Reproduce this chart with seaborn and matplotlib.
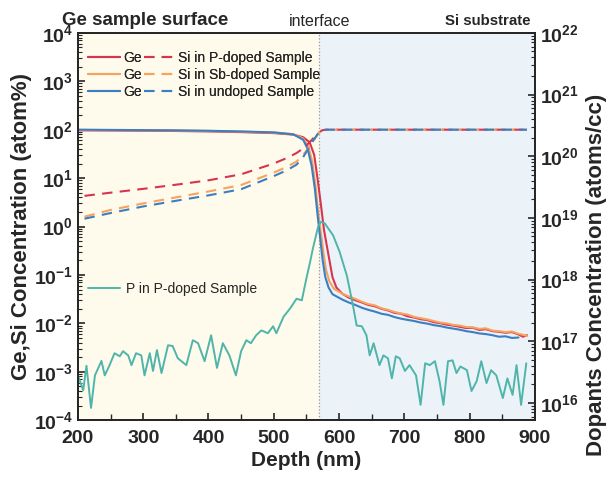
import numpy as np
import pandas as pd
import seaborn as sns
import matplotlib.pyplot as plt
from matplotlib.lines import Line2D
from matplotlib.ticker import LogLocator, FuncFormatter, MultipleLocator, NullFormatter

# Ge profiles (atom%)
ge_p_depth = [200, 250, 300, 350, 400, 450, 500, 530, 545, 555, 562, 567, 572, 577, 583, 590, 596,
              605, 615, 625, 635, 645, 655, 665, 675, 685, 695, 705, 715, 725, 735, 745, 755, 765,
              775, 785, 795, 805, 815, 825, 835, 845, 855, 865, 875, 882, 888]
ge_p = [97, 96, 95, 94, 92, 89, 85, 79, 70, 55, 30, 10, 3.0, 0.85, 0.3, 0.09, 0.055,
        0.041, 0.034, 0.030, 0.027, 0.024, 0.0225, 0.020, 0.0185, 0.0165, 0.0158, 0.014, 0.0132,
        0.0122, 0.0117, 0.0106, 0.0101, 0.0094, 0.0090, 0.0085, 0.0080, 0.0081, 0.0073, 0.0076,
        0.0069, 0.0067, 0.0064, 0.0066, 0.0059, 0.0053, 0.0057]

ge_sb_depth = [200, 250, 300, 350, 400, 450, 500, 530, 545, 553, 559, 564, 568, 572, 576, 580, 585,
               592, 605, 615, 625, 635, 645, 655, 665, 675, 685, 695, 705, 715, 725, 735, 745,
               755, 765, 775, 785, 795, 805, 815, 825, 835, 845, 855, 865, 875, 882, 888]
ge_sb = [99, 98, 97, 96, 94, 91, 87, 81, 66, 45, 22, 7, 2.0, 0.8, 0.3, 0.13, 0.075,
         0.052, 0.041, 0.036, 0.032, 0.028, 0.025, 0.0235, 0.0205, 0.019, 0.0172, 0.016, 0.0152,
         0.0136, 0.0128, 0.0121, 0.0112, 0.0104, 0.0100, 0.0093, 0.0090, 0.0084, 0.0083, 0.0077,
         0.0079, 0.0071, 0.0069, 0.0066, 0.0068, 0.0061, 0.0058, 0.0055]

ge_un_depth = [200, 250, 300, 350, 400, 450, 500, 530, 545, 552, 558, 563, 567, 571, 575, 579, 584,
               590, 605, 615, 625, 635, 645, 655, 665, 675, 685, 695, 705, 715, 725, 735, 745,
               755, 765, 775, 785, 795, 805, 815, 825, 835, 845, 855, 865, 875]
ge_un = [100, 99, 98, 97, 95, 92, 88, 80, 62, 40, 18, 6, 1.8, 0.6, 0.2, 0.09, 0.055,
         0.040, 0.031, 0.027, 0.024, 0.021, 0.019, 0.0175, 0.0158, 0.015, 0.0135, 0.0125, 0.0118,
         0.0112, 0.0104, 0.0099, 0.0092, 0.0088, 0.0082, 0.0078, 0.0074, 0.0069, 0.0066, 0.0062,
         0.0060, 0.0057, 0.0053, 0.0054, 0.0050, 0.0051]

# Si profiles (atom%)
si_depth = [210, 250, 300, 350, 400, 450, 500, 520, 535, 545, 555, 562, 568, 574, 580, 600,
            650, 700, 750, 800, 850, 888]
si_p = [4.3, 5.0, 6.0, 7.3, 9.0, 12, 20, 26, 33, 41, 55, 70, 85, 97, 100, 100,
        100, 100, 100, 100, 100, 100]
si_sb = [1.6, 2.2, 3.0, 4.0, 5.3, 7.2, 13, 17, 22, 30, 45, 62, 82, 96, 100, 100,
         100, 100, 100, 100, 100, 100]
si_un = [1.45, 1.9, 2.6, 3.4, 4.4, 5.9, 11, 14.5, 19, 27, 45, 64, 84, 97, 100, 100,
         100, 100, 100, 100, 100, 100]

# P dopant profile (atoms/cc)
p_depth = [200, 208, 213, 220, 226, 236, 241, 248, 256, 264, 269, 277, 282, 289, 297, 302, 310,
           315, 321, 328, 338, 345, 353, 366, 376, 384, 394, 404, 413, 422, 432, 442, 450, 458,
           465, 473, 481, 491, 499, 504, 515, 525, 535, 543, 550, 556, 560, 564, 568, 572, 578,
           586, 591, 601, 612, 621, 627, 635, 642, 647, 653, 662, 668, 675, 681, 687, 693, 701,
           708, 718, 725, 732, 739, 747, 754, 760, 767, 774, 780, 786, 796, 803, 811, 818, 826,
           833, 841, 851, 858, 866, 872, 879, 887]
p_conc = [2.8e16, 1.6e16, 4.0e16, 8.3e15, 2.8e16, 4.8e16, 2.8e16, 4.0e16, 6.4e16, 5.7e16, 6.9e16,
          5.9e16, 4.1e16, 6.4e16, 5.9e16, 2.8e16, 6.4e16, 3.3e16, 7.2e16, 3.05e16, 8.6e16, 8.4e16,
          5.3e16, 4.1e16, 1.04e17, 9.3e16, 4.75e16, 1.25e17, 3.7e16, 9.3e16, 5.9e16, 2.8e16,
          6.9e16, 1.04e17, 9.3e16, 1.25e17, 1.5e17, 1.35e17, 1.75e17, 1.35e17, 2.5e17, 3.4e17,
          4.9e17, 4.6e17, 1.04e18, 2.0e18, 3.2e18, 4.8e18, 7.2e18, 8.6e18, 8.2e18,
          6.2e18, 5.2e18, 2.8e18, 1.16e18, 4.0e17, 1.8e17, 1.75e17, 1.25e17, 5.9e16, 9.3e16,
          4.1e16, 5.9e16, 5.3e16, 2.5e16, 5.7e16, 5.3e16, 3.3e16, 4.1e16, 2.8e16, 9.3e15, 4.4e16,
          4.1e16, 4.75e16, 2.26e16, 9.3e15, 4.75e16, 4.9e16, 3.05e16, 3.9e16, 3.4e16, 1.56e16,
          2.26e16, 4.75e16, 2.1e16, 3.4e16, 2.8e16, 1.2e16, 2.5e16, 1.35e16, 4.1e16, 9.3e15,
          4.4e16]

sample_labels = ["Si in P-doped Sample", "Si in Sb-doped Sample", "Si in undoped Sample"]
p_label = "P in P-doped Sample"
interface_depth = 570

sns.set_style("ticks")
plt.rcParams["font.family"] = ["Liberation Sans", "DejaVu Sans"]
plt.rcParams["mathtext.fontset"] = "custom"
plt.rcParams["mathtext.rm"] = "Liberation Sans:bold"
plt.rcParams["mathtext.it"] = "Liberation Sans:bold"
plt.rcParams["mathtext.bf"] = "Liberation Sans:bold"
plt.rcParams["mathtext.default"] = "bf"

red, orange, blue, teal = "#d7354f", "#f7a25e", "#3c7fc1", "#4fb5aa"
dash = (0, (5, 3.5))

fig = plt.figure(figsize=(6.14, 4.83), dpi=100)
ax = fig.add_axes([0.127, 0.130, 0.744, 0.802])

ax.axvspan(200, interface_depth, color="#fefbec", zorder=0, lw=0)
ax.axvspan(interface_depth, 900, color="#ebf3f8", zorder=0, lw=0)
ax.axvline(interface_depth, color="#999999", ls=":", lw=0.9, zorder=1)

for d, v, c in [(ge_p_depth, ge_p, red), (ge_sb_depth, ge_sb, orange), (ge_un_depth, ge_un, blue)]:
    sns.lineplot(x=d, y=v, ax=ax, color=c, lw=1.5, sort=False, legend=False)
for v, c in [(si_p, red), (si_sb, orange), (si_un, blue)]:
    sns.lineplot(x=si_depth, y=v, ax=ax, color=c, lw=1.5, sort=False, legend=False,
                 dashes=False, linestyle=dash)

ax.set_yscale("log")
ax.set_xlim(200, 900)
ax.set_ylim(1e-4, 1e4)

ax2 = ax.twinx()
sns.lineplot(x=p_depth, y=p_conc, ax=ax2, color=teal, lw=1.4, sort=False, legend=False)
ax2.set_yscale("log")
ax2.set_ylim(10 ** 15.72, 1e22)

sup = FuncFormatter(lambda v, pos: r"$\mathbf{10^{%d}}$" % round(np.log10(v)))
for a in (ax, ax2):
    a.yaxis.set_major_locator(LogLocator(base=10, numticks=20))
    a.yaxis.set_minor_locator(LogLocator(base=10, subs=np.arange(2, 10), numticks=20))
    a.yaxis.set_major_formatter(sup)
    a.yaxis.set_minor_formatter(NullFormatter())
    a.tick_params(axis="y", which="major", direction="in", length=5, width=1.2, labelsize=14)
    a.tick_params(axis="y", which="minor", direction="in", length=3, width=0.8)
    for s in a.spines.values():
        s.set_linewidth(1.3)

ax.xaxis.set_major_locator(MultipleLocator(100))
ax.xaxis.set_minor_locator(MultipleLocator(50))
ax.tick_params(axis="x", which="major", direction="in", length=5, width=1.2, labelsize=14, pad=7)
ax.tick_params(axis="x", which="minor", direction="in", length=4, width=1.0)
for lab in ax.get_xticklabels():
    lab.set_fontweight("bold")

ax.set_xlabel("Depth (nm)", fontsize=15, fontweight="bold", labelpad=3)
ax.set_ylabel("Ge,Si Concentration (atom%)", fontsize=16, fontweight="bold", labelpad=1)
ax2.set_ylabel("Dopants Concentration (atoms/cc)", fontsize=16, fontweight="bold",
               rotation=90)
ax2.yaxis.set_label_coords(1.112, 0.375)

ge_handles = [Line2D([], [], color=c, lw=1.5) for c in (red, orange, blue)]
si_handles = [Line2D([], [], color=c, lw=1.5, ls=dash) for c in (red, orange, blue)]
leg = ax.legend(ge_handles + si_handles, ["Ge"] * 3 + sample_labels, ncol=2, loc="upper left",
                bbox_to_anchor=(-0.005, 0.985), frameon=False, fontsize=10, handlelength=2.3,
                handletextpad=0.2, columnspacing=0.15, labelspacing=0.2)
ax.add_artist(leg)
ax2.legend([Line2D([], [], color=teal, lw=1.4)], [p_label], loc="upper left",
           bbox_to_anchor=(-0.005, 0.39), frameon=False, fontsize=10, handlelength=2.3,
           handletextpad=0.4)

ax.text(-0.035, 1.01, "Ge sample surface", transform=ax.transAxes, fontsize=13.5,
        fontweight="bold", ha="left", va="bottom")
ax.text(interface_depth, 1.01, "interface", transform=ax.get_xaxis_transform(),
        fontsize=11.5, ha="center", va="bottom")
ax.text(0.99, 1.012, "Si substrate", transform=ax.transAxes, fontsize=10.8,
        fontweight="bold", ha="right", va="bottom")

fig.savefig("out.png", dpi=100)
